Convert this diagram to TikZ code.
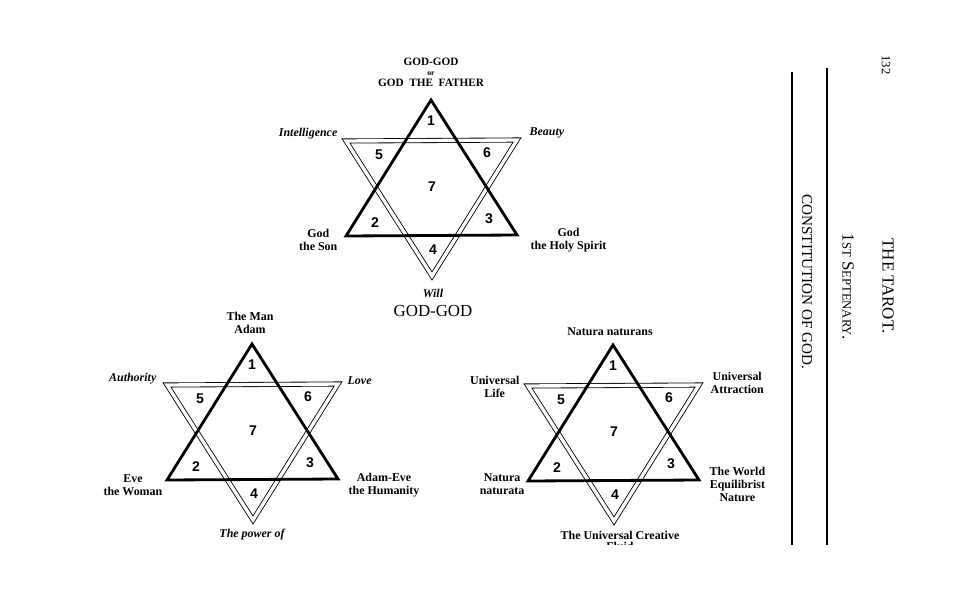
\documentclass[tikz,border=0pt]{standalone}
\usepackage{fontspec}
\setmainfont{Liberation Serif}
\newfontfamily\numfont{Liberation Sans}
\usetikzlibrary{positioning}
\tikzset{
  thk/.style={line width=2pt, line join=miter},
  dbl/.style={double, double distance=2.4pt, line width=0.6pt, line join=miter},
  num/.style={font=\numfont\bfseries\fontsize{10}{10}\selectfont, inner sep=0pt},
  lbl/.style={font=\bfseries\fontsize{8.5}{9.2}\selectfont, align=center, inner sep=1pt},
  itl/.style={lbl, font=\bfseries\itshape\fontsize{8.5}{9.2}\selectfont},
  rotlbl/.style={rotate=-90, inner sep=0pt},
  septstar/.pic={
    \draw[dbl] (-85,44) -- (86,43) -- (1,179) -- cycle;
    \draw[thk] (0,3) -- (86,138) -- (-85,139) -- cycle;
    \node[num] (-n1) at (0,24) {1};
    \node[num] (-n5) at (-52,58) {5};
    \node[num] (-n6) at (56,56) {6};
    \node[num] (-n7) at (1,90) {7};
    \node[num] (-n2) at (-56,126) {2};
    \node[num] (-n3) at (58,122) {3};
    \node[num] (-n4) at (2,153) {4};
  }
}

\begin{document}
\begin{tikzpicture}[x=0.025cm, y=-0.025cm]
  \useasboundingbox (0,0) rectangle (971,591);

  \pic (father) at (431,97) {septstar};
  \node[lbl, font=\bfseries\fontsize{8}{8.6}\selectfont] (fathertop) at (431,72)
    {GOD-GOD\\[-1.5pt]{\fontsize{5.5}{6}\selectfont or}\\[-1pt]GOD\ \ THE\ \ FATHER};
  \node[itl, anchor=east] (intel) at (339,134) {Intelligence};
  \node[itl, anchor=west] (beauty) at (528,133) {Beauty};
  \node[lbl, anchor=east] (son) at (339,240) {God\\the Son};
  \node[lbl, anchor=west] (spirit) at (529,240) {God\\the Holy Spirit};
  \node[itl] (will) at (433,293) {Will};
  \node[lbl, font=\fontsize{12}{13}\selectfont] (godgod) at (433,311) {GOD-GOD};

  \pic (adam) at (252,341) {septstar};
  \node[lbl] (man) at (250,323) {The Man\\Adam};
  \node[itl, anchor=east] (auth) at (158,379) {Authority};
  \node[itl, anchor=west] (love) at (346,381) {Love};
  \node[lbl, anchor=east] (eve) at (164,485) {Eve\\the Woman};
  \node[lbl, anchor=west] (humanity) at (347,485) {Adam-Eve\\the Humanity};
  \node[itl] (power) at (252,535) {The power of};

  \pic (natura) at (613,342) {septstar};
  \node[lbl] (naturans) at (610,332) {Natura naturans};
  \node[lbl, anchor=east] (life) at (521,387) {Universal\\Life};
  \node[lbl, anchor=west] (attract) at (709,383) {Universal\\Attraction};
  \node[lbl, anchor=east] (naturata) at (526,484) {Natura\\naturata};
  \node[lbl, anchor=west] (world) at (708,484) {The World\\Equilibrist\\Nature};
  \node[lbl] (creative) at (620,535) {The Universal Creative};
  \begin{scope}
    \clip (570,540) rectangle (670,544);
    \node[lbl] (fluid) at (620,546) {Fluid};
  \end{scope}

  \draw[line width=0.8pt] (792,72) -- (792,545);
  \draw[line width=0.8pt] (827,68) -- (827,545);
  \node[rotlbl, font=\fontsize{9}{9}\selectfont] (page) at (886,65) {132};
  \node[rotlbl, font=\fontsize{12}{12}\selectfont] (tarot) at (888,286) {THE TAROT.};
  \node[rotlbl, font=\fontsize{12}{12}\selectfont] (septenary) at (848,287)
    {1{\fontsize{9}{9}\selectfont ST} S{\fontsize{9}{9}\selectfont EPTENARY}.};
  \node[rotlbl, font=\fontsize{10.8}{11}\selectfont] (constit) at (807,282) {CONSTITUTION OF GOD.};
\end{tikzpicture}
\end{document}
